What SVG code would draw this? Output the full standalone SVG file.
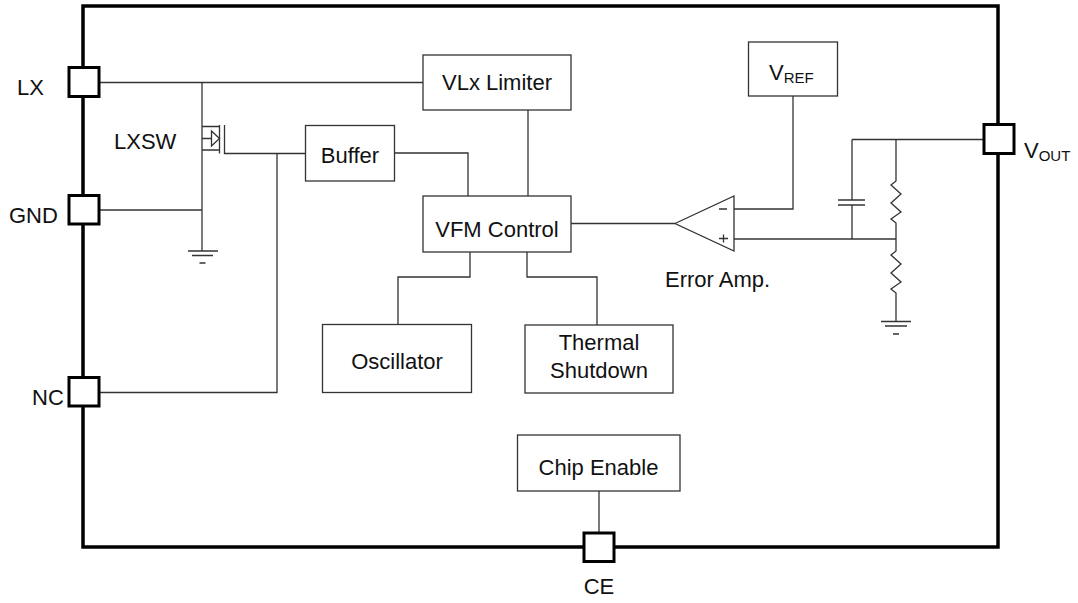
<svg xmlns="http://www.w3.org/2000/svg" width="1078" height="603" viewBox="0 0 1078 603">
<style>
.box{fill:#fff;stroke:#333;stroke-width:1.3}
.w{fill:none;stroke:#333;stroke-width:1.3}
.pin{fill:#fff;stroke:#000;stroke-width:3}
.t{font-family:"Liberation Sans",Arial,sans-serif;font-size:22px;fill:#111}
.s{font-size:15px}
</style>
<rect width="1078" height="603" fill="#fff"/>
<g id="outline">
<rect x="83" y="6" width="915" height="541" fill="none" stroke="#000" stroke-width="3.5"/>
</g>
<g id="connectors" class="w">
<path d="M99 82.5H423"/>
<path d="M202 82.5V251"/>
<path d="M99 210H202"/>
<path d="M202 126.5H219.5M202 150H219.5M202 138.5H211.5"/>
<path d="M219.5 125V153.5"/>
<path d="M224.5 125V153.5H305"/>
<path d="M277 153.5V392.5H99"/>
<path d="M394 153H468V196"/>
<path d="M528 110V196"/>
<path d="M571 223.5H675"/>
<path d="M470 252V277H398V324"/>
<path d="M527 252V277H597V325"/>
<path d="M599 491V533"/>
<path d="M734 209H793V96"/>
<path d="M734 239H896"/>
<path d="M852 139.5H984"/>
<path d="M852 139.5V200M852 205V239"/>
<path d="M838 200H865M838 205H865"/>
<path d="M896 139.5V181L891 185L901 194L891 203L901 212L891 219L896 223V251L891 255L901 264L891 273L901 282L891 289L896 293V321.5"/>
</g>
<g id="mosfet" class="w">
<path d="M211.5 131L219.5 138.5L211.5 146Z"/>
</g>
<g id="gnd1" class="w">
<path d="M188 251H218M192 255.5H213M199.5 263H205.5"/>
</g>
<g id="gnd2" class="w">
<path d="M881 321.5H911M885 326H907M893 334H899"/>
</g>
<g id="erroramp">
<path d="M675 223.5L734 196V251Z" class="w"/>
<path d="M719 209H727M719 238.5H728M723.5 234.5V242.5" class="w"/>
<text x="665" y="287" class="t">Error Amp.</text>
</g>
<g id="lxsw"><text x="114" y="149" class="t">LXSW</text></g>
<g id="vlx"><rect x="423" y="55" width="148" height="55" class="box"/><text x="497" y="90" class="t" text-anchor="middle">VLx Limiter</text></g>
<g id="buffer"><rect x="305.5" y="125.5" width="89" height="55.5" class="box"/><text x="350" y="163" class="t" text-anchor="middle">Buffer</text></g>
<g id="vfm"><rect x="423" y="196" width="148" height="56" class="box"/><text x="497" y="237" class="t" text-anchor="middle">VFM Control</text></g>
<g id="osc"><rect x="322.5" y="324.5" width="149" height="68" class="box"/><text x="397" y="369" class="t" text-anchor="middle">Oscillator</text></g>
<g id="thermal"><rect x="525" y="325" width="148" height="68" class="box"/><text x="599" y="350" class="t" text-anchor="middle">Thermal</text><text x="599" y="378" class="t" text-anchor="middle">Shutdown</text></g>
<g id="chipenable"><rect x="517.5" y="435" width="162.5" height="56" class="box"/><text x="598.5" y="475" class="t" text-anchor="middle">Chip Enable</text></g>
<g id="vref"><rect x="748.5" y="42" width="89" height="54" class="box"/><text x="769" y="79.5" class="t">V<tspan class="s" dy="3.5">REF</tspan></text></g>
<g id="pin-lx"><rect x="69" y="67.5" width="30" height="29" class="pin"/><text x="17" y="95" class="t">LX</text></g>
<g id="pin-gnd"><rect x="69" y="195.5" width="30" height="28.5" class="pin"/><text x="9" y="223" class="t">GND</text></g>
<g id="pin-nc"><rect x="69" y="377.5" width="30" height="28.5" class="pin"/><text x="32" y="405" class="t">NC</text></g>
<g id="pin-vout"><rect x="984" y="124.5" width="30" height="29" class="pin"/><text x="1024" y="157.5" class="t">V<tspan class="s" dy="3.5">OUT</tspan></text></g>
<g id="pin-ce"><rect x="584" y="533" width="30" height="28.5" class="pin"/><text x="599" y="594" class="t" text-anchor="middle">CE</text></g>
</svg>
